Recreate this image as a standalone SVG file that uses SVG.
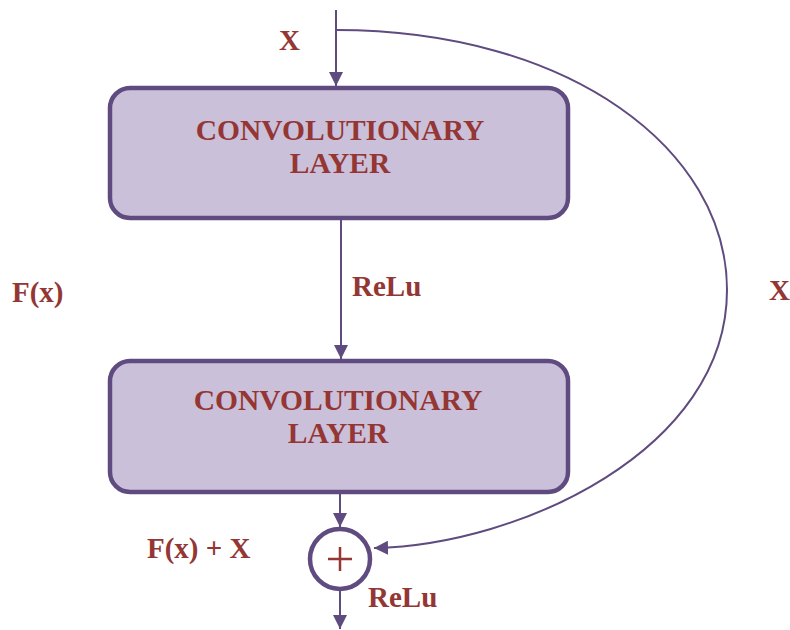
<svg xmlns="http://www.w3.org/2000/svg" width="790" height="630" viewBox="0 0 790 630">
<defs>
<style>
.box{fill:#cbc0da;stroke:#5f4b7f;stroke-width:4.5}
.t{font-family:"Liberation Serif","Times New Roman",serif;font-weight:bold;fill:#943634}
.bt{font-size:29.5px;text-anchor:middle}
.lb{font-size:29px}
.c{fill:none;stroke:#5f4b7f;stroke-width:2}
</style>
<marker id="a" viewBox="0 0 10 10" refX="10" refY="5" markerWidth="7" markerHeight="7" orient="auto">
<path d="M0,0 L10,5 L0,10 z" fill="#5f4b7f"/>
</marker>
</defs>
<rect width="790" height="630" fill="#fff"/>
<g id="connectors">
<line class="c" x1="336" y1="10" x2="336" y2="86" marker-end="url(#a)"/>
<path class="c" d="M336,30 C570,30 727,150 727,290 C727,450 520,545 374,548" marker-end="url(#a)"/>
<line class="c" x1="341" y1="220" x2="341" y2="359" marker-end="url(#a)"/>
<line class="c" x1="340" y1="494" x2="340" y2="527" marker-end="url(#a)"/>
<line class="c" x1="340" y1="591" x2="340" y2="629" marker-end="url(#a)"/>
</g>
<g id="conv1">
<rect class="box" x="110" y="88" width="458" height="130" rx="20"/>
<text class="t bt" x="340" y="140">CONVOLUTIONARY</text>
<text class="t bt" x="340" y="173">LAYER</text>
</g>
<g id="conv2">
<rect class="box" x="110" y="361" width="458" height="131" rx="20"/>
<text class="t bt" x="338" y="410">CONVOLUTIONARY</text>
<text class="t bt" x="338" y="443">LAYER</text>
</g>
<g id="sum">
<circle cx="340" cy="559" r="30" fill="#fff" stroke="#5f4b7f" stroke-width="4.5"/>
<path d="M328,559 H352 M340,547 V571" stroke="#943634" stroke-width="2.5" fill="none"/>
</g>
<g id="labels">
<text class="t lb" x="279" y="50">X</text>
<text class="t lb" x="352" y="296">ReLu</text>
<text class="t lb" x="12" y="302">F(x)</text>
<text class="t lb" x="769" y="300">X</text>
<text class="t lb" x="147" y="558">F(x) + X</text>
<text class="t lb" x="368" y="607">ReLu</text>
</g>
</svg>
